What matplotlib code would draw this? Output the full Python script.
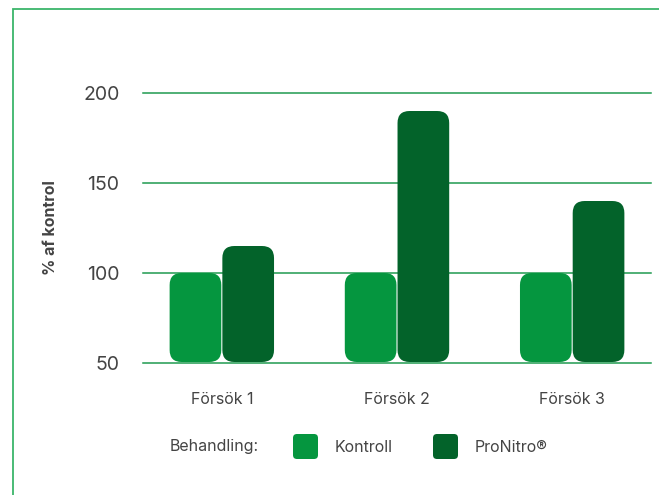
import matplotlib.pyplot as plt
from matplotlib.patches import FancyBboxPatch, Rectangle
import numpy as np

plt.rcParams['font.family'] = ['Inter', 'DejaVu Sans']

forsok = ["Försök 1", "Försök 2", "Försök 3"]
kontroll = [100, 100, 100]
pronitro = [115, 190, 140]
y_ticks = [50, 100, 150, 200]

c_kontroll = "#05963f"
c_pronitro = "#03632a"
c_grid = "#1f9a50"
c_text = "#444444"

W, H = 659, 495
fig = plt.figure(figsize=(W / 100, H / 100), dpi=100)
ax = fig.add_axes([143 / W, 1 - 363 / H, (651 - 143) / W, (363 - 93) / H])

x = np.arange(len(forsok))
bw = 0.295
base = 50
b1 = ax.bar(x - bw / 2 - 0.003, np.array(kontroll) - base, bw, bottom=base, color=c_kontroll)
b2 = ax.bar(x + bw / 2 + 0.003, np.array(pronitro) - base, bw, bottom=base, color=c_pronitro)

ax.set_xlim(-0.45, 2.45)
ax.set_ylim(50, 200)

# swap the plain bars for rounded ones
px_x = (651 - 143) / 2.9
px_y = (363 - 93) / 150
r = 12 / px_x
for bars in (b1, b2):
    for rect in bars:
        x0, y0 = rect.get_x(), rect.get_y()
        w, h = rect.get_width(), rect.get_height()
        rect.set_visible(False)
        p = FancyBboxPatch((x0, y0 + 1 / px_y), w, h - 1 / px_y,
                           boxstyle=f"round,pad=0,rounding_size={r}",
                           mutation_aspect=px_x / px_y,
                           facecolor=rect.get_facecolor(), edgecolor="none", zorder=3)
        ax.add_patch(p)

ax.set_yticks(y_ticks)
ax.yaxis.grid(True, color=c_grid, linewidth=1.1)
for gl in ax.yaxis.get_gridlines():
    gl.set_clip_on(False)
ax.set_axisbelow(True)
for s in ax.spines.values():
    s.set_visible(False)
ax.tick_params(axis="y", length=0, pad=17, labelsize=14, labelcolor=c_text)
ax.tick_params(axis="x", length=0, pad=21, labelsize=11.5, labelcolor=c_text)
ax.set_xticks(x)
ax.set_xticklabels(forsok)
ax.set_ylabel("% af kontrol", fontsize=11.5, fontweight="bold", color=c_text, labelpad=18)

# frame
fig.patches.append(Rectangle((13 / W, -0.1), 1.2, 1 - 9 / H + 0.1, transform=fig.transFigure,
                             fill=False, edgecolor="#3cb56a", linewidth=1.3))

# legend
ly = 1 - 447 / H
fig.text(170 / W, ly, "Behandling:", fontsize=11.5, color=c_text, va="center")
for x0, col, lab in [(293, c_kontroll, "Kontroll"), (433, c_pronitro, "ProNitro®")]:
    fig.patches.append(FancyBboxPatch((x0 / W, 1 - 459 / H), 25 / W, 25 / H,
                                      boxstyle="round,pad=0,rounding_size=0.006",
                                      mutation_aspect=W / H,
                                      transform=fig.transFigure, facecolor=col, edgecolor="none"))
    fig.text((x0 + 42) / W, ly, lab, fontsize=11.5, color=c_text, va="center")

fig.savefig("out.png", dpi=100)
